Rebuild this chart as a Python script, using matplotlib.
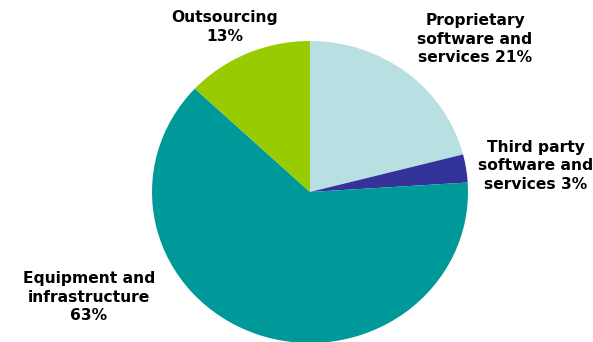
import matplotlib
matplotlib.use("Agg")
import matplotlib.pyplot as plt

# Share of spending by category (%)
categories = ["Proprietary\nsoftware and\nservices", "Third party\nsoftware and\nservices",
              "Equipment and\ninfrastructure", "Outsourcing"]
shares = [21, 3, 63, 13]
colors = ["#b8dfe2", "#333399", "#009999", "#99cc00"]

# label text and where it sits (pixels from top-left of the figure)
label_texts = ["Proprietary\nsoftware and\nservices 21%", "Third party\nsoftware and\nservices 3%",
               "Equipment and\ninfrastructure\n63%", "Outsourcing\n13%"]
label_pos = [(475, 39), (536, 166), (89, 297), (225, 27)]

W, H = 593, 342
fig = plt.figure(figsize=(W / 100, H / 100), dpi=100)

# pie is slightly wider than tall, bottom edge runs off the figure
left, right, top, bottom = 152, 468, 41, 343
ax = fig.add_axes([left / W, (H - bottom) / H, (right - left) / W, (bottom - top) / H])
ax.pie(shares, colors=colors, startangle=90, counterclock=False, radius=1,
       wedgeprops=dict(linewidth=0))
ax.set_xlim(-1, 1)
ax.set_ylim(-1, 1)
ax.set_aspect("auto")
ax.axis("off")

for txt, (x, y) in zip(label_texts, label_pos):
    fig.text(x / W, 1 - y / H, txt, ha="center", va="center", fontsize=11.2,
             fontweight="bold", family="DejaVu Sans", linespacing=1.3, color="black")

fig.savefig("out.png", dpi=100)
